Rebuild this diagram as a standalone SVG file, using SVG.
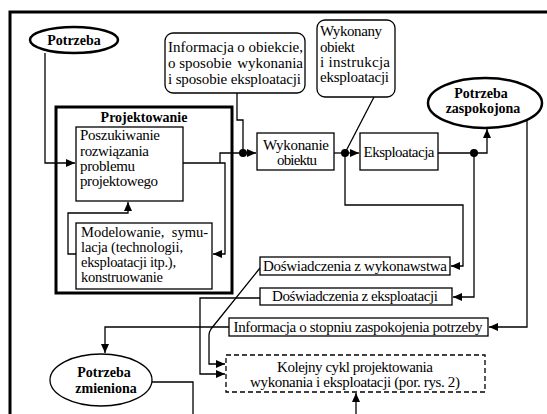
<svg xmlns="http://www.w3.org/2000/svg" width="547" height="414" viewBox="0 0 547 414">
<defs>
<style>
text{font-family:"Liberation Serif","Times New Roman",serif;font-size:15px;fill:#000}
.b{font-weight:bold;font-size:14px}
.c{text-anchor:middle}
.e{text-anchor:end}
.s{font-size:14.5px}
.box{fill:#fff;stroke:#000;stroke-width:1.3}
.thick{fill:none;stroke:#000;stroke-width:3}
.oval{fill:#fff;stroke:#000;stroke-width:2.5}
.dash{fill:#fff;stroke:#000;stroke-width:1.3;stroke-dasharray:5,3}
.ln{fill:none;stroke:#000;stroke-width:1.3}
.arr{fill:none;stroke:#000;stroke-width:1.3;marker-end:url(#ah)}
</style>
<marker id="ah" markerUnits="userSpaceOnUse" markerWidth="10" markerHeight="9" refX="9" refY="4" orient="auto">
<path d="M0,0 L9,4 L0,8 z" fill="#000"/>
</marker>
</defs>
<rect width="547" height="414" fill="#fff"/>
<path d="M10,414 V12 H547" fill="none" stroke="#000" stroke-width="3"/>

<g id="connectors">
<path class="arr" d="M45,53 V163 H75"/>
<path class="arr" d="M183,163 H225 V254 H213"/>
<path class="arr" d="M76,254 H68 V213 H128 V202"/>
<path class="arr" d="M220,163 V153 H256"/>
<path class="ln" d="M237,93 V120 H243 V153"/>
<circle cx="243" cy="153" r="4" fill="#000"/>
<path class="arr" d="M334,153 H359"/>
<path class="ln" d="M374,97 L345,153"/>
<circle cx="345" cy="153" r="4" fill="#000"/>
<path class="arr" d="M345,153 V205 H463 V266 H451"/>
<path class="arr" d="M438,153 H487 V129"/>
<circle cx="474" cy="153" r="4" fill="#000"/>
<path class="arr" d="M474,153 V297 H453"/>
<path class="arr" d="M527,120 V327 H489"/>
<path class="arr" d="M229,327 H105 V353"/>
<path class="arr" d="M260,268 L211,329 Q209,332 209,335 V364 H225"/>
<path class="arr" d="M260,298 H200 V374 H225"/>
<path class="ln" d="M152,382 H193 V414"/>
<path class="arr" d="M356,414 V393"/>
</g>

<g id="potrzeba">
<ellipse class="oval" cx="74" cy="40" rx="44" ry="13"/>
<text class="b c" x="74" y="45">Potrzeba</text>
</g>

<g id="informacja-obiekt">
<rect class="box" x="165" y="33" width="140" height="60" rx="8"/>
<text x="168" y="52">Informacja</text>
<text class="e" x="303" y="52">o obiekcie,</text>
<text x="168" y="68">o sposobie</text>
<text class="e" x="303" y="68">wykonania</text>
<text x="168" y="84" textLength="133">i sposobie eksploatacji</text>
</g>

<g id="wykonany">
<rect class="box" x="317" y="20" width="78" height="77" rx="8"/>
<text x="320" y="36" textLength="62">Wykonany</text>
<text x="320" y="52" textLength="35">obiekt</text>
<text x="320" y="67" textLength="70">i instrukcja</text>
<text x="320" y="82" textLength="69">eksploatacji</text>
</g>

<g id="zaspokojona">
<ellipse class="oval" cx="485" cy="103" rx="57" ry="25"/>
<text class="b c" x="481" y="98">Potrzeba</text>
<text class="b c" x="483" y="113">zaspokojona</text>
</g>

<g id="projektowanie">
<rect class="thick" x="56" y="107" width="176" height="186"/>
<text class="b c" x="144" y="122">Projektowanie</text>
</g>

<g id="poszukiwanie">
<rect class="box" x="76" y="127" width="107" height="74"/>
<text x="80" y="140" textLength="80">Poszukiwanie</text>
<text x="80" y="156" textLength="69">rozwiązania</text>
<text x="80" y="171" textLength="55">problemu</text>
<text x="80" y="186" textLength="78">projektowego</text>
</g>

<g id="modelowanie">
<rect class="box" x="76" y="223" width="136" height="66"/>
<text class="s" x="81" y="237">Modelowanie,</text>
<text class="s e" x="208" y="237">symu-</text>
<text class="s" x="81" y="252" textLength="102">lacja (technologii,</text>
<text class="s" x="81" y="267" textLength="95">eksploatacji itp.),</text>
<text class="s" x="81" y="282" textLength="82">konstruowanie</text>
</g>

<g id="wykonanie">
<rect class="box" x="257" y="133" width="77" height="37"/>
<text class="c" x="296" y="150" textLength="66">Wykonanie</text>
<text class="c" x="297" y="165" textLength="40">obiektu</text>
</g>

<g id="eksploatacja">
<rect class="box" x="360" y="133" width="78" height="37"/>
<text class="c" x="399" y="157" textLength="71">Eksploatacja</text>
</g>

<g id="dosw-wykonawstwa">
<rect class="box" x="260" y="257" width="190" height="18"/>
<text class="c" x="355" y="271" textLength="184">Doświadczenia z wykonawstwa</text>
</g>

<g id="dosw-eksploatacji">
<rect class="box" x="260" y="288" width="192" height="17"/>
<text class="c" x="355" y="301" textLength="166">Doświadczenia z eksploatacji</text>
</g>

<g id="informacja-stopien">
<rect class="box" x="229" y="318" width="259" height="18"/>
<text class="c" x="358" y="332" textLength="249">Informacja o stopniu zaspokojenia potrzeby</text>
</g>

<g id="kolejny-cykl">
<rect class="dash" x="226" y="355" width="259" height="37"/>
<text class="c" x="355" y="372" textLength="156">Kolejny cykl projektowania</text>
<text class="c" x="355" y="387" textLength="210">wykonania i eksploatacji (por. rys. 2)</text>
</g>

<g id="zmieniona">
<ellipse cx="101" cy="380" rx="51" ry="26" fill="#fff" stroke="#000" stroke-width="1.3"/>
<text class="b c" x="104" y="377">Potrzeba</text>
<text class="b c" x="106" y="393">zmieniona</text>
</g>
</svg>
